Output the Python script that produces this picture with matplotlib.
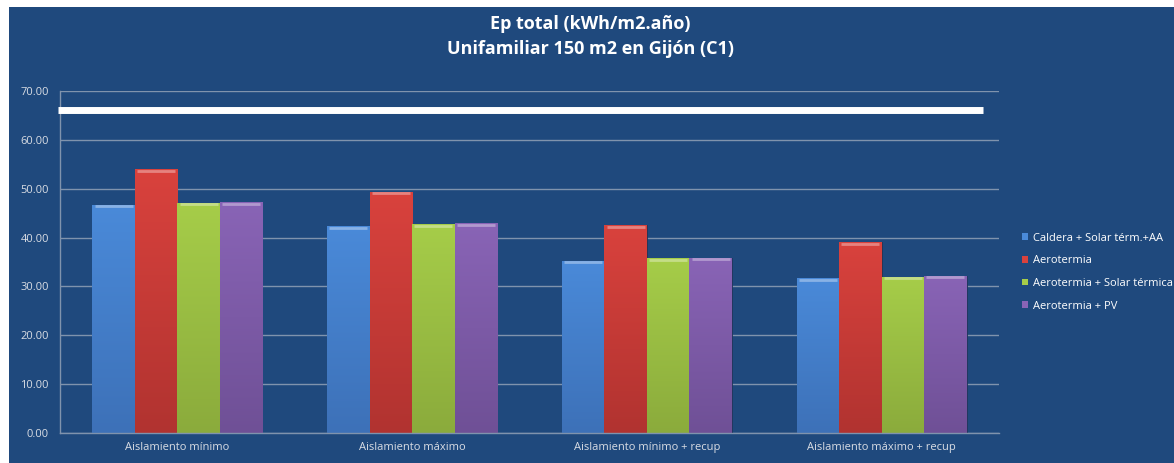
import numpy as np
import matplotlib.pyplot as plt
from matplotlib.patches import Patch, Rectangle
from matplotlib.colors import LinearSegmentedColormap

# --- data ---
categories = ["Aislamiento mínimo", "Aislamiento máximo",
              "Aislamiento mínimo + recup", "Aislamiento máximo + recup"]
series_names = ["Caldera + Solar térm.+AA", "Aerotermia",
                "Aerotermia + Solar térmica", "Aerotermia + PV"]
caldera_solar = [46.7, 42.3, 35.3, 31.7]
aerotermia = [53.9, 49.4, 42.5, 39.0]
aerotermia_solar = [47.1, 42.8, 35.8, 32.0]
aerotermia_pv = [47.3, 42.9, 35.9, 32.2]
limite = 66.1  # white reference line
yticks = [0, 10, 20, 30, 40, 50, 60, 70]

series = [caldera_solar, aerotermia, aerotermia_solar, aerotermia_pv]
# (top colour, bottom colour) for each series
colors = [("#4a8ad9", "#3d71b8"),
          ("#d9423d", "#b13330"),
          ("#a6cd49", "#8bab3c"),
          ("#8964b6", "#6f5096")]

NAVY = "#1f497d"
GRID = "#7f93ad"
TXT = "#d9dde4"

plt.rcParams['font.family'] = ['Open Sans', 'DejaVu Sans']

fig = plt.figure(figsize=(11.74, 4.63), dpi=100)
fig.patch.set_facecolor("white")
# navy chart area, kept behind the axes
fig.patches.append(Rectangle((9 / 1174, 0), 1 - 9 / 1174, 1 - 7 / 463,
                             transform=fig.transFigure, facecolor=NAVY,
                             edgecolor="none", zorder=-10))

ax = fig.add_axes([60 / 1174, 29.7 / 463, 939 / 1174, 342.6 / 463])
ax.set_zorder(1)
ax.set_facecolor("none")

ax.set_yticks(yticks)
ax.set_yticklabels([f"{v:.2f}" for v in yticks], color=TXT, fontsize=8)
ax.set_xticks(range(len(categories)))
ax.set_xticklabels(categories, color=TXT, fontsize=8)
ax.tick_params(length=0, pad=6)
ax.tick_params(axis="y", pad=8)
ax.grid(axis="y", color=GRID, linewidth=1)
ax.set_axisbelow(True)
for side in ["top", "right"]:
    ax.spines[side].set_visible(False)
for side in ["left", "bottom"]:
    ax.spines[side].set_color(GRID)
    ax.spines[side].set_linewidth(1)

x = np.arange(len(categories))
bw = 0.181
grad = np.linspace(0, 1, 256).reshape(-1, 1)
for i, (vals, (top, bot)) in enumerate(zip(series, colors)):
    xs = x + (i - 1.5) * bw
    bars = ax.bar(xs, vals, width=bw, color=bot, edgecolor="#1a3558",
                  linewidth=0.6, zorder=2)
    cmap = LinearSegmentedColormap.from_list(f"g{i}", [bot, top])
    for b in bars:
        x0, w, h = b.get_x(), b.get_width(), b.get_height()
        im = ax.imshow(grad, cmap=cmap, aspect="auto", origin="lower",
                       extent=(x0, x0 + w, 0, h), zorder=2.5)
        im.set_clip_path(b)
        # bevelled highlight along the bar top
        ax.plot([x0 + 0.01, x0 + w - 0.01], [h - 0.35, h - 0.35],
                color="white", alpha=0.35, linewidth=2, zorder=3,
                solid_capstyle="butt")
ax.set_xlim(-0.5, len(categories) - 0.5)
ax.set_ylim(0, 70)

ax.hlines(limite, -0.509, 3.432, color="white", linewidth=5, zorder=4,
          clip_on=False)

handles = [Patch(facecolor=t, edgecolor="none") for t, b in colors]
leg = fig.legend(handles, series_names, loc="center left",
                 bbox_to_anchor=(1012 / 1174, 0.4125), frameon=False,
                 fontsize=8, labelcolor="white", handlelength=0.55,
                 handleheight=0.55, handletextpad=0.45, labelspacing=1.05)

fig.text(0.503, 1 - 24 / 463, "Ep total (kWh/m2.año)", ha="center",
         va="center", color="white", fontsize=13, fontweight="bold")
fig.text(0.503, 1 - 49 / 463, "Unifamiliar 150 m2 en Gijón (C1)",
         ha="center", va="center", color="white", fontsize=13,
         fontweight="bold")

fig.savefig("out.png", dpi=100, facecolor=fig.get_facecolor())
